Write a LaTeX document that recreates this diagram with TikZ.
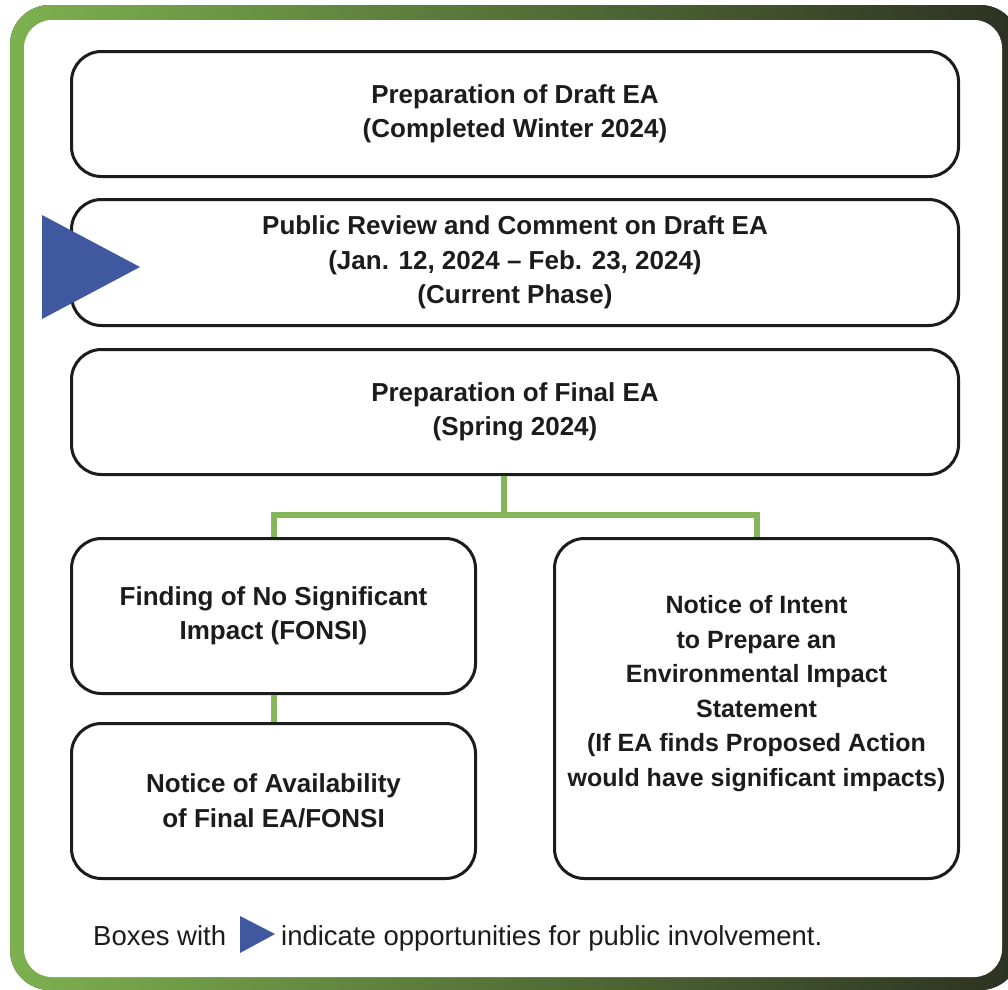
\documentclass[tikz,border=0pt]{standalone}
\usepackage{fontspec}
\setmainfont{Liberation Sans}
\usepackage{tikz}
\usetikzlibrary{positioning}

\definecolor{frameGreen}{HTML}{7DB14F}
\definecolor{frameMid}{HTML}{56703A}
\definecolor{frameDark}{HTML}{2C3121}
\definecolor{linkGreen}{HTML}{86B65A}
\definecolor{markBlue}{HTML}{3F58A0}
\definecolor{inkBlack}{HTML}{1C1C1C}

\begin{document}
\begin{tikzpicture}[x=1pt,y=-1pt,
	box/.style={draw=inkBlack, line width=3pt, rounded corners=30pt, fill=white,
		minimum width=887pt, minimum height=125pt, align=center, text=inkBlack,
		font=\bfseries\fontsize{26}{34.5}\selectfont},
	smallbox/.style={box, minimum width=404pt, minimum height=155pt},
	boxtext/.style={align=center, text=inkBlack, font=\bfseries\fontsize{25}{34.5}\selectfont},
	link/.style={draw=linkGreen, line width=6pt},
	legendtext/.style={inner sep=0pt, text=inkBlack, font=\fontsize{27.5}{30}\selectfont}]
				\useasboundingbox (0,0) rectangle (1008,989);
				\clip (0,0) rectangle (1008,989);

				% frame
				\fill[left color=frameGreen, middle color=frameMid, right color=frameDark, rounded corners=40pt]
					(10,5) rectangle (1020,990);
				\fill[white, rounded corners=28pt] (24,20) rectangle (1002,977);

				% main steps
				\node[box]	(box1) at (515,114) {Preparation of Draft EA\\(Completed Winter 2024)};
				\node[box, minimum height=126pt, below=20pt of box1]	(box2) {Public Review and Comment on Draft EA\\(Jan. 12, 2024 -- Feb. 23, 2024)\\(Current Phase)};
				\node[box, below=21pt of box2]	(box3) {Preparation of Final EA\\(Spring 2024)};

				\node[smallbox, below=61pt of box3.south west, anchor=north west]	(box4) {Finding of No Significant\\Impact (FONSI)};
				\node[smallbox, below=27pt of box4]	(box5) {Notice of Availability\\of Final EA/FONSI};
				\node[smallbox, minimum height=340pt, right=76pt of box4.north east, anchor=north west]	(box6) {};
				\node[boxtext] (box6text) at ([yshift=15pt]box6.center) {Notice of Intent\\to Prepare an\\Environmental Impact\\Statement\\(If EA finds Proposed Action\\would have significant impacts)};

				% connectors
				\draw[link] ([xshift=-11pt]box3.south) -- ++(0,39) coordinate (fork);
				\draw[link] (box4.north) |- (fork) -| (box6.north);
				\draw[link] (box4.south) -- (box5.north);

				% public involvement marker
				\fill[markBlue] (42,215) -- (42,319) -- (140,267) -- cycle;

				% legend
				\node[legendtext, anchor=base west]	(legend) at (93,945) {Boxes with};
				\fill[markBlue] (240,916) -- (240,953) -- (275,934) -- cycle;
				\node[legendtext, anchor=base west]	(legendtail) at (281,945) {indicate opportunities for public involvement.};
\end{tikzpicture}
\end{document}
